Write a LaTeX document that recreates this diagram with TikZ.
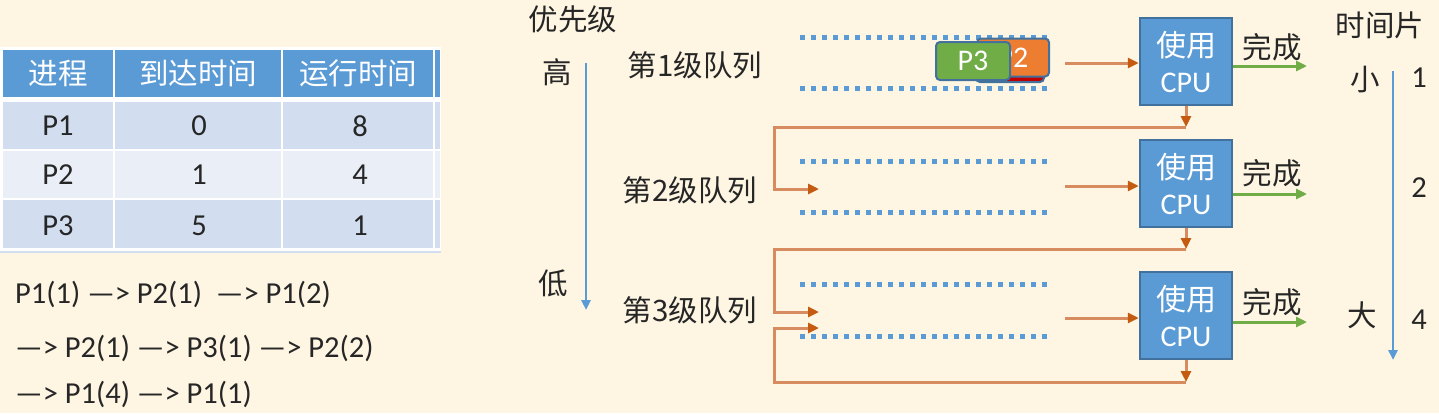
\documentclass[tikz,border=0pt]{standalone}
\usepackage{fontspec}
\setmainfont{Carlito}
\newfontfamily\cjk{Noto Sans CJK SC}
\usetikzlibrary{arrows.meta}

\definecolor{bg}{HTML}{FEF6E3}
\definecolor{hblue}{HTML}{5B9BD5}
\definecolor{rowa}{HTML}{D2DEEF}
\definecolor{rowb}{HTML}{EAEFF7}
\definecolor{edgeblue}{HTML}{41719C}
\definecolor{lineor}{HTML}{D68C5E}
\definecolor{tipor}{HTML}{C55A11}
\definecolor{okgreen}{HTML}{70AD47}
\definecolor{pred}{HTML}{C00000}
\definecolor{porange}{HTML}{ED7D31}
\definecolor{ink}{HTML}{262626}

\tikzset{
  txt/.style={font=\fontsize{30.5}{34}\selectfont, text=ink, inner sep=0pt},
  cn/.style={font=\cjk\fontsize{29.5}{34}\selectfont, text=ink, inner sep=0pt},
  cpubox/.style={draw=edgeblue, line width=2.5pt, fill=hblue, minimum width=92pt,
    minimum height=87pt, text=white, align=center, inner sep=0pt,
    font=\fontsize{30}{36}\selectfont},
  pbox/.style={draw=edgeblue, line width=2pt, rounded corners=4pt, minimum width=72pt,
    minimum height=38pt, text=white, inner sep=0pt, font=\fontsize{30}{34}\selectfont},
  qline/.style={hblue, line width=5pt, dash pattern=on 5pt off 6pt},
  flow/.style={lineor, line width=3pt, -{Triangle[length=11pt,width=10pt,color=tipor]}},
  done/.style={okgreen, line width=3pt, -{Triangle[length=11pt,width=10pt]}},
  axis/.style={hblue, line width=2.5pt, -{Triangle[length=10pt,width=9pt]}}
}

\begin{document}
\begin{tikzpicture}[x=1pt, y=-1pt]
\fill[bg] (0,0) rectangle (1439,413);
\useasboundingbox (0,0) rectangle (1439,413);

\fill[white] (0,47) rectangle (441,251);
\foreach \a/\b in {3/113,115/281,283/433,435/440} {
  \fill[hblue] (\a,50) rectangle (\b,97);
  \fill[rowa] (\a,102) rectangle (\b,149);
  \fill[rowb] (\a,151) rectangle (\b,198);
  \fill[rowa] (\a,200) rectangle (\b,248);
}
\fill[rowa] (0,251) rectangle (441,253);

\node[cn, text=white] (h1) at (58,73) {进程};
\node[cn, text=white] (h2) at (198,73) {到达时间};
\node[cn, text=white] (h3) at (358,73) {运行时间};
\node[txt] (p1) at (58,126) {P1};
\node[txt] (a1) at (199,126) {0};
\node[txt] (r1) at (360,126) {8};
\node[txt] (p2) at (58,175) {P2};
\node[txt] (a2) at (199,175) {1};
\node[txt] (r2) at (360,175) {4};
\node[txt] (p3) at (58,226) {P3};
\node[txt] (a3) at (199,226) {5};
\node[txt] (r3) at (360,226) {1};

\node[txt, anchor=base west] (s1) at (15,303) {P1(1) —> P2(1) \ —> P1(2)};
\node[txt, anchor=base west] (s2) at (15,357) {—> P2(1) —> P3(1) —> P2(2)};
\node[txt, anchor=base west] (s3) at (15,403) {—> P1(4) —> P1(1)};

\node[cn] (prio) at (573,19) {优先级};
\node[cn] (hi) at (557,72) {高};
\node[cn] (lo) at (553,283) {低};
\coordinate (ptop) at (586,63);
\coordinate (pbot) at (586,310);
\draw[axis] (ptop) -- (pbot);

\node[cn] (lv1) at (695,65) {第1级队列};
\node[cn] (lv2) at (690,190) {第2级队列};
\node[cn] (lv3) at (690,310) {第3级队列};

\foreach \t in {37,88,161,212,284,336}
  \draw[qline] (800,\t) -- (1049,\t);

\node[pbox, fill=pred, minimum width=68pt] (pr) at (1010,63) {};
\node[pbox, fill=porange] (po) at (1013,57.5) {P2};
\node[pbox, fill=okgreen, minimum width=74pt] (pg) at (973,61) {P3};

\node[cpubox] (cpu1) at (1186,61.5) {{\cjk 使用}\\CPU};
\node[cpubox] (cpu2) at (1186,183.5) {{\cjk 使用}\\CPU};
\node[cpubox] (cpu3) at (1186,315.5) {{\cjk 使用}\\CPU};

\coordinate (q1out) at (1065,63);
\coordinate (q2out) at (1065,186);
\coordinate (q3out) at (1065,318);
\draw[flow] (q1out) -- (q1out -| cpu1.west);
\draw[flow] (q2out) -- (q2out -| cpu2.west);
\draw[flow] (q3out) -- (q3out -| cpu3.west);

\coordinate (b1) at (1186,127);
\coordinate (b2) at (1186,249);
\coordinate (b3) at (1186,382);
\coordinate (l2) at (774,189);
\coordinate (l3) at (774,312);
\coordinate (l4) at (774,328);
\coordinate (q2in) at (819,189);
\coordinate (q3in) at (819,312);
\coordinate (q3back) at (819,328);
\draw[flow] (b1) -| (l2) -- (q2in);
\draw[flow] (b2) -| (l3) -- (q3in);
\draw[flow] (b3) -| (l4) -- (q3back);
\draw[flow] (cpu1.south) -- (b1);
\draw[flow] (cpu2.south) -- (b2);
\draw[flow] (cpu3.south) -- (b3);

\coordinate (f1) at (1307,66);
\coordinate (f2) at (1307,194);
\coordinate (f3) at (1307,322);
\draw[done] (f1 -| cpu1.east) -- (f1);
\draw[done] (f2 -| cpu2.east) -- (f2);
\draw[done] (f3 -| cpu3.east) -- (f3);
\node[cn] (d1) at (1272,47) {完成};
\node[cn] (d2) at (1272,173) {完成};
\node[cn] (d3) at (1272,302) {完成};

\node[cn] (slice) at (1380,25) {时间片};
\node[cn] (small) at (1365,80) {小};
\node[cn] (big) at (1362,315) {大};
\node[txt] (t1) at (1419,78) {1};
\node[txt] (t2) at (1419,188) {2};
\node[txt] (t4) at (1419,320) {4};
\coordinate (stop) at (1393,71);
\coordinate (sbot) at (1393,360);
\draw[axis] (stop) -- (sbot);
\end{tikzpicture}
\end{document}
